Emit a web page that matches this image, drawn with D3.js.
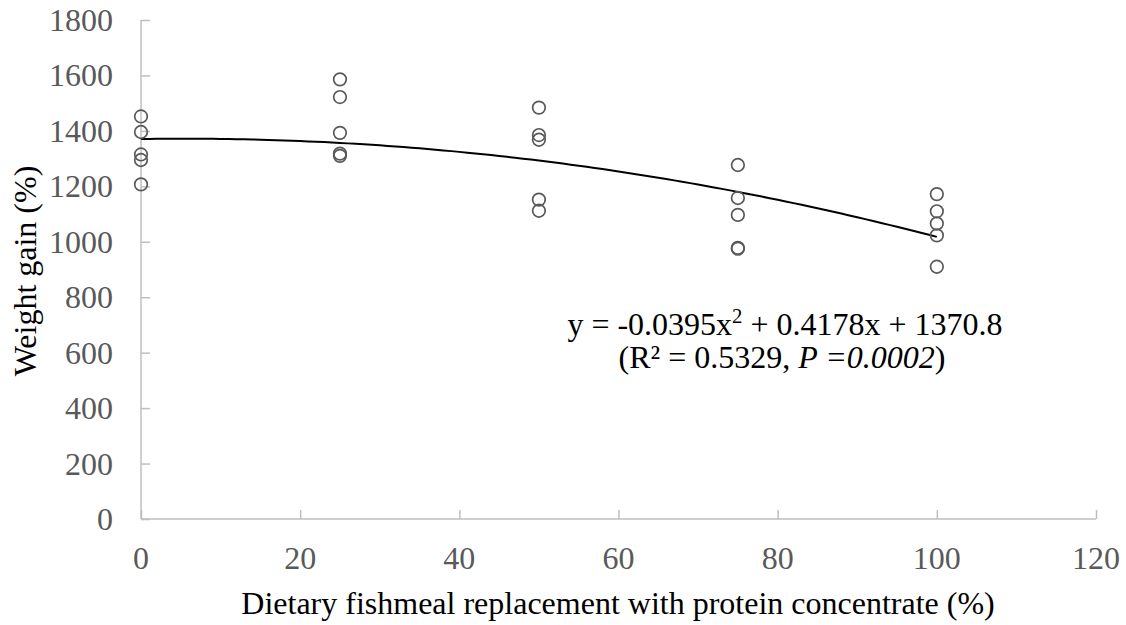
<!DOCTYPE html>
<html><head><meta charset="utf-8">
<script src="https://cdn.jsdelivr.net/npm/d3@7"></script>
<style>body{margin:0;background:#fff}svg{display:block}</style>
</head><body><svg id="c" width="1126" height="625"></svg>
<script>
const xTicks = [0,20,40,60,80,100,120];
const yTicks = [0,200,400,600,800,1000,1200,1400,1600,1800];
const groupX = [0,25,50,75,100];
const weightGain = [
  [1452,1396,1315,1295,1207],
  [1586,1522,1393,1318,1310],
  [1484,1385,1368,1152,1112],
  [1277,1158,1097,978,975],
  [1172,1110,1066,1023,910]
];
const coef = [-0.0395, 0.4178, 1370.8];
const xTitle = "Dietary fishmeal replacement with protein concentrate (%)";
const yTitle = "Weight gain (%)";

const svg = d3.select("#c");
const x = d3.scaleLinear().domain([0,120]).range([141,1096]);
const y = d3.scaleLinear().domain([0,1800]).range([519,20]);
const axisCol = "#bfbfbf", txtCol = "#595959";
const FF = '"Liberation Serif", Tinos, "Times New Roman", serif';
const fs = 32;
const T = sel => sel.attr("font-family",FF).attr("font-size",fs)
  .style("font-family",FF,"important");

// axes
const xa = svg.append("g").attr("transform","translate(0,519)")
  .call(d3.axisTop(x).tickValues(xTicks).tickSize(9).tickFormat(""));
const ya = svg.append("g").attr("transform","translate(141,0)")
  .call(d3.axisRight(y).tickValues(yTicks).tickSize(9).tickFormat(""));
[xa,ya].forEach(g=>{g.selectAll("path,line").attr("stroke",axisCol).attr("stroke-width",1.5);});
xa.select(".domain").attr("d","M141,0H1096");
ya.select(".domain").attr("d","M0,20V519");

svg.append("g").selectAll("text").data(xTicks).join("text")
  .attr("x",d=>x(d)).attr("y",569).attr("text-anchor","middle")
  .call(T).attr("fill",txtCol).text(d=>d);
svg.append("g").selectAll("text").data(yTicks).join("text")
  .attr("x",113).attr("y",d=>y(d)+11).attr("text-anchor","end")
  .call(T).attr("fill",txtCol).text(d=>d);

// titles
svg.append("text").attr("x",618).attr("y",614).attr("text-anchor","middle")
  .call(T).attr("fill","#000").text(xTitle);
svg.append("text").attr("transform","translate(36,271) rotate(-90)").attr("text-anchor","middle")
  .call(T).attr("fill","#000").text(yTitle);

// trend curve
const curve = d3.range(0,100.5,1).map(v=>[v, coef[0]*v*v+coef[1]*v+coef[2]]);
svg.append("path").datum(curve).attr("fill","none").attr("stroke","#000").attr("stroke-width",2)
  .attr("d",d3.line().x(d=>x(d[0])).y(d=>y(d[1])));

// points
const pts = [];
groupX.forEach((gx,i)=>weightGain[i].forEach(v=>pts.push([gx,v])));
svg.append("g").selectAll("circle").data(pts).join("circle")
  .attr("cx",d=>x(d[0])).attr("cy",d=>y(d[1])).attr("r",6.3)
  .attr("fill","none").attr("stroke","#595959").attr("stroke-width",1.7);

// equation
const t1 = svg.append("text").attr("x",785).attr("y",335).attr("text-anchor","middle")
  .call(T).attr("fill","#000");
t1.append("tspan").text("y = -0.0395x");
t1.append("tspan").attr("font-size",fs*0.65).attr("dy",-12).text("2");
t1.append("tspan").attr("dy",12).text(" + 0.4178x + 1370.8");
const t2 = svg.append("text").attr("x",782).attr("y",368).attr("text-anchor","middle")
  .call(T).attr("fill","#000");
t2.append("tspan").text("(R² = 0.5329, ");
t2.append("tspan").attr("font-style","italic").text("P =0.0002");
t2.append("tspan").text(")");
</script></body></html>
